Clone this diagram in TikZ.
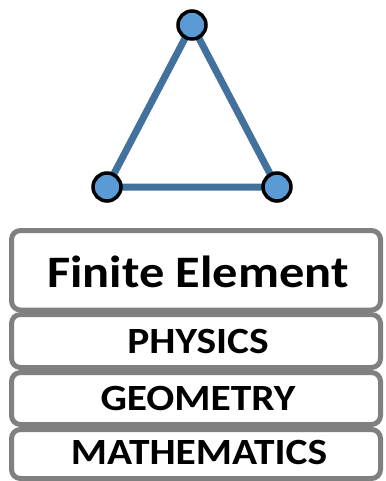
\documentclass[tikz,border=0pt]{standalone}
\usepackage{fontspec}
\usepackage{graphicx}
\setmainfont{Carlito}
\definecolor{edgeblue}{HTML}{41719C}
\definecolor{fillblue}{HTML}{5B9BD5}
\definecolor{boxgray}{HTML}{808080}
\newcommand{\wide}[1]{\scalebox{1.12}[1]{#1}}
\begin{document}
\begin{tikzpicture}[x=1pt,y=-1pt,
  vert/.style={circle,draw=black,fill=fillblue,line width=3.5pt,minimum size=28pt,inner sep=0pt},
  edge/.style={draw=edgeblue,line width=7pt},
  layer/.style={draw=boxgray,line width=5pt,rounded corners=9pt,fill=white},
  lbl/.style={font=\bfseries\fontsize{37}{37}\selectfont,text=black,inner sep=0pt}]
\useasboundingbox (0,0) rectangle (385,481);
\coordinate (t) at (192,25);
\coordinate (l) at (107,187);
\coordinate (r) at (277,187);
\draw[edge] (t) -- (l) -- (r) -- cycle;
\node[vert] (vt) at (t) {};
\node[vert] (vl) at (l) {};
\node[vert] (vr) at (r) {};
\draw[layer] (11.5,230.5) rectangle (380.5,310);
\draw[layer] (11.5,314.5) rectangle (380.5,367.5);
\draw[layer] (11.5,372.5) rectangle (380.5,424.5);
\draw[layer] (11.5,429.5) rectangle (380.5,478.5);
\node[font=\bfseries\fontsize{45}{45}\selectfont,inner sep=0pt] (fe) at (198,272) {\wide{Finite Element}};
\node[lbl] (ph) at (198,341) {\wide{PHYSICS}};
\node[lbl] (ge) at (198,398) {\wide{GEOMETRY}};
\node[lbl] (ma) at (199,452) {\wide{MATHEMATICS}};
\end{tikzpicture}
\end{document}
